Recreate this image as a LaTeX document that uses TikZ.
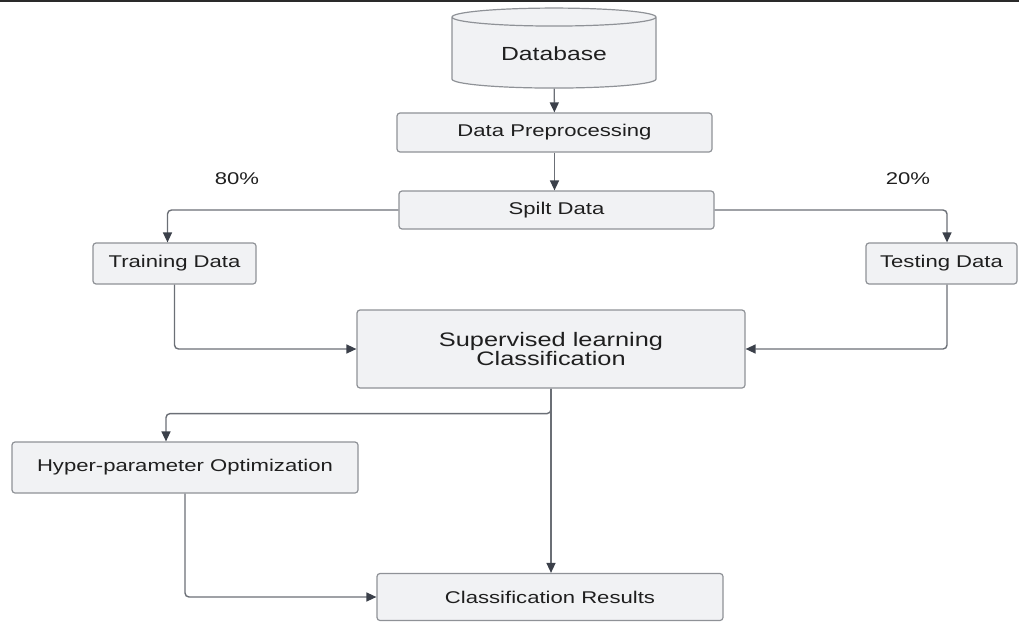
\documentclass[tikz,border=0pt]{standalone}
\usepackage{fontspec}
\setmainfont{Liberation Sans}[FakeStretch=1.3]
\usetikzlibrary{shapes.geometric}
\usetikzlibrary{arrows.meta}
\definecolor{BoxFill}{HTML}{F1F2F4}
\definecolor{BoxLine}{HTML}{8F9297}
\definecolor{FlowLine}{HTML}{6B6F76}
\definecolor{TipFill}{HTML}{3B404A}
\definecolor{InkText}{HTML}{1F1F1F}
\definecolor{TopRule}{HTML}{2A2A2A}

\begin{document}
\begin{tikzpicture}[x=1pt, y=-1pt,
    font=\fontsize{17}{20}\selectfont,
    text=InkText,
    >={Triangle[length=10pt,width=9pt,color=TipFill]},
    procbox/.style={shape=rectangle,
      rounded corners=3pt,
      draw=BoxLine,
      fill=BoxFill,
      line width=1.2pt,
      inner sep=0pt},
    flow/.style={draw=FlowLine,
      line width=1.4pt,
      rounded corners=4pt,
      ->}]
    \path [use as bounding box] (0,0) rectangle (1019,623);

    \draw[line width=2.5pt, draw=TopRule] (0,1) -- (1019,1);

    \node[name=db,
      shape=cylinder,
      shape border rotate=90,
      aspect=0.16,
      draw=BoxLine,
      fill=BoxFill,
      line width=1.2pt,
      minimum width=204pt,
      minimum height=80pt,
      font=\fontsize{19}{22}\selectfont] at (554,54) {Database};

    \node[name=pre, procbox,
      minimum width=315pt,
      minimum height=39pt] at (554.5,132.5) {Data Preprocessing};

    \node[name=split, procbox,
      minimum width=315pt,
      minimum height=38pt] at (556.5,210) {Spilt Data};

    \node[name=pct80] at (237,179) {80\%};
    \node[name=pct20] at (908,179) {20\%};

    \node[name=train, procbox,
      minimum width=163pt,
      minimum height=41pt] at (174.5,263.5) {Training Data};

    \node[name=test, procbox,
      minimum width=151pt,
      minimum height=41pt] at (941.5,263.5) {Testing Data};

    \node[name=sup, procbox,
      minimum width=388pt,
      minimum height=78pt,
      align=center,
      font=\fontsize{19.5}{18.5}\selectfont] at (551,349) {Supervised learning\\Classification};

    \node[name=hyp, procbox,
      minimum width=346pt,
      minimum height=51pt] at (185,467.5) {Hyper-parameter Optimization};

    \node[name=res, procbox,
      minimum width=346pt,
      minimum height=47pt] at (550,597) {Classification Results};

    \path (db) edge[flow] (pre);
    \path (pre.south) edge[flow] (pre.south |- split.north);
    \path (sup.south) edge[flow] (sup.south |- res.north);

    \draw[flow] (split.west) -| ([xshift=-7pt]train.north);
    \draw[flow] (split.east) -| ([xshift=5.5pt]test.north);
    \draw[flow] (train.south) |- (sup.west);
    \draw[flow] ([xshift=5.5pt]test.south) |- (sup.east);
    \draw[flow] (sup.south) -- ++(0,25) -| ([xshift=-19pt]hyp.north);
    \draw[flow] (hyp.south) |- (res.west);
  \end{tikzpicture}
\end{document}
